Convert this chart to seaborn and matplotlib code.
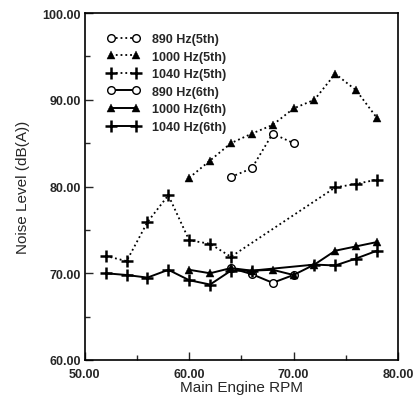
import numpy as np
import matplotlib
matplotlib.use("Agg")
import matplotlib.pyplot as plt
import seaborn as sns
from matplotlib.ticker import MultipleLocator, FormatStrFormatter

# data
rpm_890_5 = [64, 66, 68, 70]
db_890_5 = [81.1, 82.1, 86.1, 85.0]

rpm_1000_5 = [60, 62, 64, 66, 68, 70, 72, 74, 76, 78]
db_1000_5 = [81.0, 83.0, 85.0, 86.1, 87.1, 89.0, 90.0, 93.0, 91.1, 87.9]

rpm_1040_5 = [52, 54, 56, 58, 60, 62, 64, 74, 76, 78]
db_1040_5 = [72.0, 71.4, 75.9, 79.0, 73.8, 73.4, 71.9, 79.9, 80.3, 80.8]

rpm_890_6 = [64, 66, 68, 70]
db_890_6 = [70.6, 69.9, 68.9, 69.8]

rpm_1000_6 = [60, 62, 64, 66, 68, 70, 72, 74, 76, 78]
db_1000_6 = [70.4, 70.0, 70.6, 70.3, 70.4, 69.8, 71.0, 72.6, 73.1, 73.6]

rpm_1040_6 = [52, 54, 56, 58, 60, 62, 64, 66, 72, 74, 76, 78]
db_1040_6 = [70.0, 69.8, 69.5, 70.4, 69.2, 68.7, 70.3, 70.3, 71.0, 70.9, 71.7, 72.6]

labels = ["890 Hz(5th)", "1000 Hz(5th)", "1040 Hz(5th)",
          "890 Hz(6th)", "1000 Hz(6th)", "1040 Hz(6th)"]

sns.set_style("ticks")
plt.rcParams['font.family'] = ['Liberation Sans', 'DejaVu Sans']

fig = plt.figure(figsize=(4.14, 4.02), dpi=100)
ax = fig.add_axes([0.205, 0.102, 0.756, 0.863])

series = [
    (rpm_890_5, db_890_5, 'o', ':', labels[0]),
    (rpm_1000_5, db_1000_5, '^', ':', labels[1]),
    (rpm_1040_5, db_1040_5, '+', ':', labels[2]),
    (rpm_890_6, db_890_6, 'o', '-', labels[3]),
    (rpm_1000_6, db_1000_6, '^', '-', labels[4]),
    (rpm_1040_6, db_1040_6, '+', '-', labels[5]),
]

for x, y, m, ls, lab in series:
    face = 'white' if m == 'o' else 'black'
    lw = 1.3 if ls == ':' else 1.4
    ms = {'o': 5.5, '^': 6, '+': 8}[m]
    mew = {'o': 1.0, '^': 0.3, '+': 1.8}[m]
    sns.lineplot(x=x, y=y, ax=ax, color='black', linestyle=ls, linewidth=lw,
                 marker=m, markersize=ms,
                 markerfacecolor=face, markeredgecolor='black',
                 markeredgewidth=mew,
                 label=lab, sort=False, estimator=None)

ax.set_xlim(50, 80)
ax.set_ylim(60, 100)
ax.xaxis.set_major_locator(MultipleLocator(10))
ax.xaxis.set_minor_locator(MultipleLocator(5))
ax.yaxis.set_major_locator(MultipleLocator(10))
ax.yaxis.set_minor_locator(MultipleLocator(5))
ax.xaxis.set_major_formatter(FormatStrFormatter('%.2f'))
ax.yaxis.set_major_formatter(FormatStrFormatter('%.2f'))
ax.tick_params(which='major', direction='in', length=6, width=1,
               labelsize=9, pad=3)
ax.tick_params(axis='x', which='major', pad=6)
ax.tick_params(which='minor', direction='in', length=3.5, width=1)
for t in ax.get_xticklabels() + ax.get_yticklabels():
    t.set_fontweight('bold')
for s in ax.spines.values():
    s.set_linewidth(1.2)
    s.set_color('black')

ax.set_xlabel("Main Engine RPM", fontsize=11, labelpad=0)
ax.set_ylabel("Noise Level (dB(A))", fontsize=11, labelpad=9)

leg = ax.legend(loc='upper left', bbox_to_anchor=(0.035, 0.975), frameon=False,
                numpoints=2, handlelength=2.6, handletextpad=1.0,
                labelspacing=0.45,
                prop={'weight': 'bold', 'size': 9})

fig.savefig("out.png", dpi=100)
